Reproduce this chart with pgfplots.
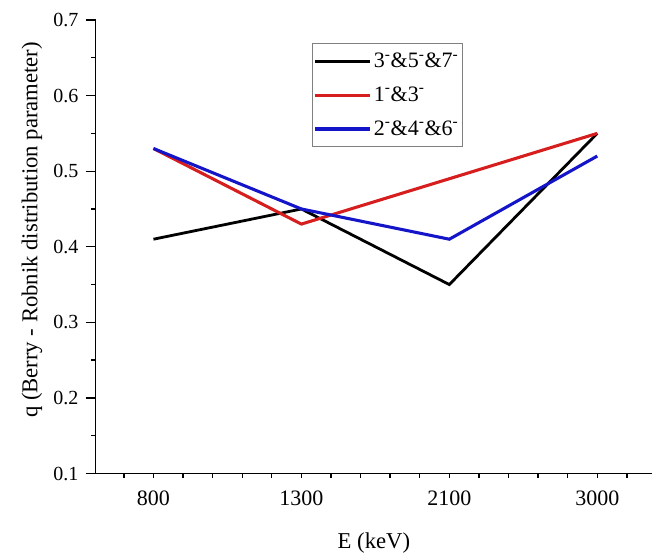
\documentclass[border=0pt]{standalone}
\usepackage{fontspec}
\setmainfont{Liberation Serif}
\usepackage{pgfplots}
\pgfplotsset{compat=1.18}
\definecolor{myred}{RGB}{215,30,30}
\definecolor{myblue}{RGB}{20,20,200}
\begin{document}
\begin{tikzpicture}
\begin{axis}[
  scale only axis,
  width=417pt, height=340pt,
  axis x line=bottom, axis y line=left,
  axis line style={-, line width=1pt},
  xmin=-0.39, xmax=3.37,
  ymin=0.1, ymax=0.7,
  xtick={0,1,2,3},
  xticklabels={800,1300,2100,3000},
  major x tick style={draw=none},
  extra x ticks={-0.2,0.2,0.6,1.0,1.4,1.8,2.2,2.6,3.0},
  extra x tick labels={},
  extra x tick style={major tick length=6pt, tick style={line width=1pt, draw=black}},
  minor xtick={-0.2,0,0.2,0.4,0.6,0.8,1.0,1.2,1.4,1.6,1.8,2.0,2.2,2.4,2.6,2.8,3.0,3.2},
  minor x tick style={line width=1pt},
  ytick={0.1,0.2,...,0.7},
  minor ytick={0.15,0.25,...,0.65},
  tick align=outside,
  major tick length=7.5pt, minor tick length=3.5pt,
  tick style={line width=1pt, black},
  /pgf/number format/assume math mode=true,
  xticklabel style={font=\fontsize{16.5}{19}\selectfont, yshift=-2pt},
  yticklabel style={font=\fontsize{15}{18}\selectfont, xshift=-2pt,
    /pgf/number format/fixed, /pgf/number format/fixed zerofill,
    /pgf/number format/precision=1},
  xlabel={E (keV)},
  ylabel={q (Berry - Robnik distribution parameter)},
  every axis x label/.style={at={(axis description cs:0.5,-0.153)}, anchor=center,
    font=\fontsize{17}{20}\selectfont},
  every axis y label/.style={at={(axis description cs:-0.1146,0.537)}, anchor=center,
    rotate=90, font=\fontsize{17}{20}\selectfont},
  legend style={at={(0.3885,0.949)}, anchor=north west, draw=gray,
    font=\fontsize{16.5}{19}\selectfont, row sep=9pt, inner xsep=1pt, inner ysep=5pt},
  legend cell align=left,
  legend image code/.code={\draw[#1, line width=2.3pt] (0pt,0pt) -- (41pt,0pt);},
]
\coordinate (bl) at (rel axis cs:0,0);
\coordinate (tr) at (rel axis cs:1,1);
\addplot[black, line width=2.1pt] coordinates {(0,0.41) (1,0.45) (2,0.35) (3,0.55)};
\addlegendentry{3\textsuperscript{-}\&5\textsuperscript{-}\&7\textsuperscript{-}}
\addplot[myred, line width=2.3pt] coordinates {(0,0.53) (1,0.43) (2,0.49) (3,0.55)};
\addlegendentry{1\textsuperscript{-}\&3\textsuperscript{-}}
\addplot[myblue, line width=2.3pt] coordinates {(0,0.53) (1,0.45) (2,0.41) (3,0.52)};
\addlegendentry{2\textsuperscript{-}\&4\textsuperscript{-}\&6\textsuperscript{-}}
\end{axis}
\useasboundingbox ([xshift=-71.8pt,yshift=-60pt]bl) rectangle ([xshift=1.5pt,yshift=15pt]tr);
\end{tikzpicture}
\end{document}
